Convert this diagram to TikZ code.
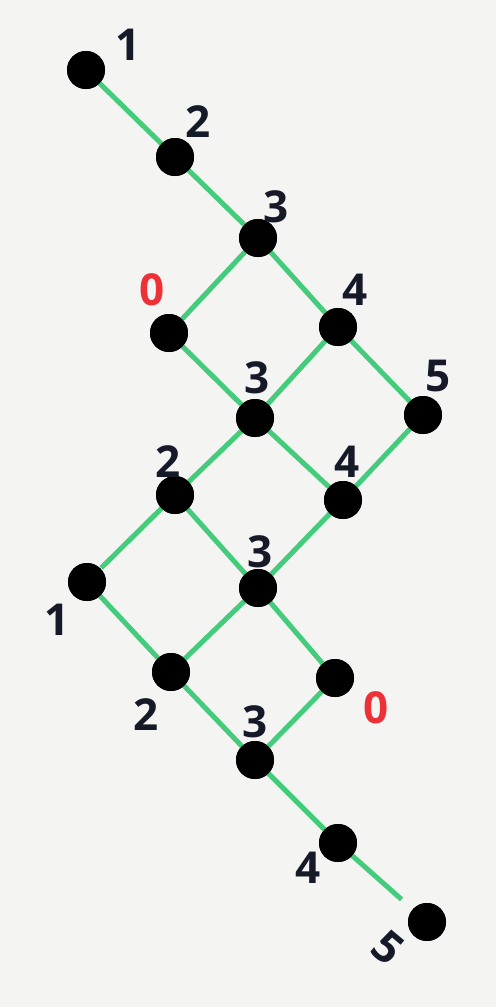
\documentclass[tikz,border=0pt]{standalone}
\usepackage{fontspec}
\setmainfont{Open Sans}
\definecolor{paper}{RGB}{244,244,243}
\definecolor{pen}{RGB}{68,204,124}
\definecolor{ink}{RGB}{22,26,40}
\definecolor{redink}{RGB}{236,50,55}
\begin{document}
\begin{tikzpicture}[x=1pt,y=-1pt,
  dot/.style={circle,fill=black,inner sep=0pt,minimum size=38pt},
  lbl/.style={text=ink,font=\fontsize{44}{44}\selectfont\bfseries},
  rlbl/.style={text=redink,font=\fontsize{44}{44}\selectfont\bfseries},
  edge/.style={draw=pen,line width=5pt}]
\fill[paper] (0,0) rectangle (496,1007);
\useasboundingbox (0,0) rectangle (496,1007);
% nodes
\node[dot] (A) at (86,70) {};
\node[dot] (B) at (175,157) {};
\node[dot] (C) at (258,238) {};
\node[dot] (D) at (169,333) {};
\node[dot] (E) at (338,327) {};
\node[dot] (F) at (255,418) {};
\node[dot] (G) at (423,415) {};
\node[dot] (H) at (175,495) {};
\node[dot] (I) at (343,500) {};
\node[dot] (J) at (87,582) {};
\node[dot] (K) at (258,588) {};
\node[dot] (L) at (171,672) {};
\node[dot] (M) at (335,678) {};
\node[dot] (N) at (255,760) {};
\node[dot] (O) at (338,843) {};
\node[dot] (P) at (427,922) {};
% edges
\path[edge] (A.center) -- (B.center) -- (C.center) -- (D.center);
\path[edge] (C.center) -- (E.center) -- (G.center) -- (I.center) -- (K.center);
\path[edge] (D.center) -- (F.center) -- (E.center);
\path[edge] (F.center) -- (I.center);
\path[edge] (F.center) -- (H.center) -- (K.center) -- (M.center) -- (N.center) -- (O.center);
\path[edge,shorten >=20pt] (H.center) -- (J.center);
\path[edge] (J.center) -- (L.center) -- (K.center);
\path[edge] (L.center) -- (N.center);
\path[edge,shorten >=34pt] (O.center) -- (P.center);
% redraw dots on top
\foreach \n in {A,B,C,D,E,F,G,H,I,J,K,L,M,N,O,P} {\fill[black] (\n.center) circle (19pt);}
% labels
\node[lbl] (lA) at (128,45) {1};
\node[lbl] (lB) at (198,122) {2};
\node[lbl] (lC) at (276,207) {3};
\node[rlbl] (lD) at (152,290) {0};
\node[lbl] (lE) at (355,290) {4};
\node[lbl] (lF) at (257,378) {3};
\node[lbl] (lG) at (438,376) {5};
\node[lbl] (lH) at (168,462) {2};
\node[lbl] (lI) at (347,462) {4};
\node[lbl] (lJ) at (57,620) {1};
\node[lbl] (lK) at (260,552) {3};
\node[lbl] (lL) at (146,715) {2};
\node[rlbl] (lM) at (376,708) {0};
\node[lbl] (lN) at (255,722) {3};
\node[lbl] (lO) at (308,868) {4};
\node[lbl,rotate=-40] (lP) at (388,948) {5};
\end{tikzpicture}
\end{document}
